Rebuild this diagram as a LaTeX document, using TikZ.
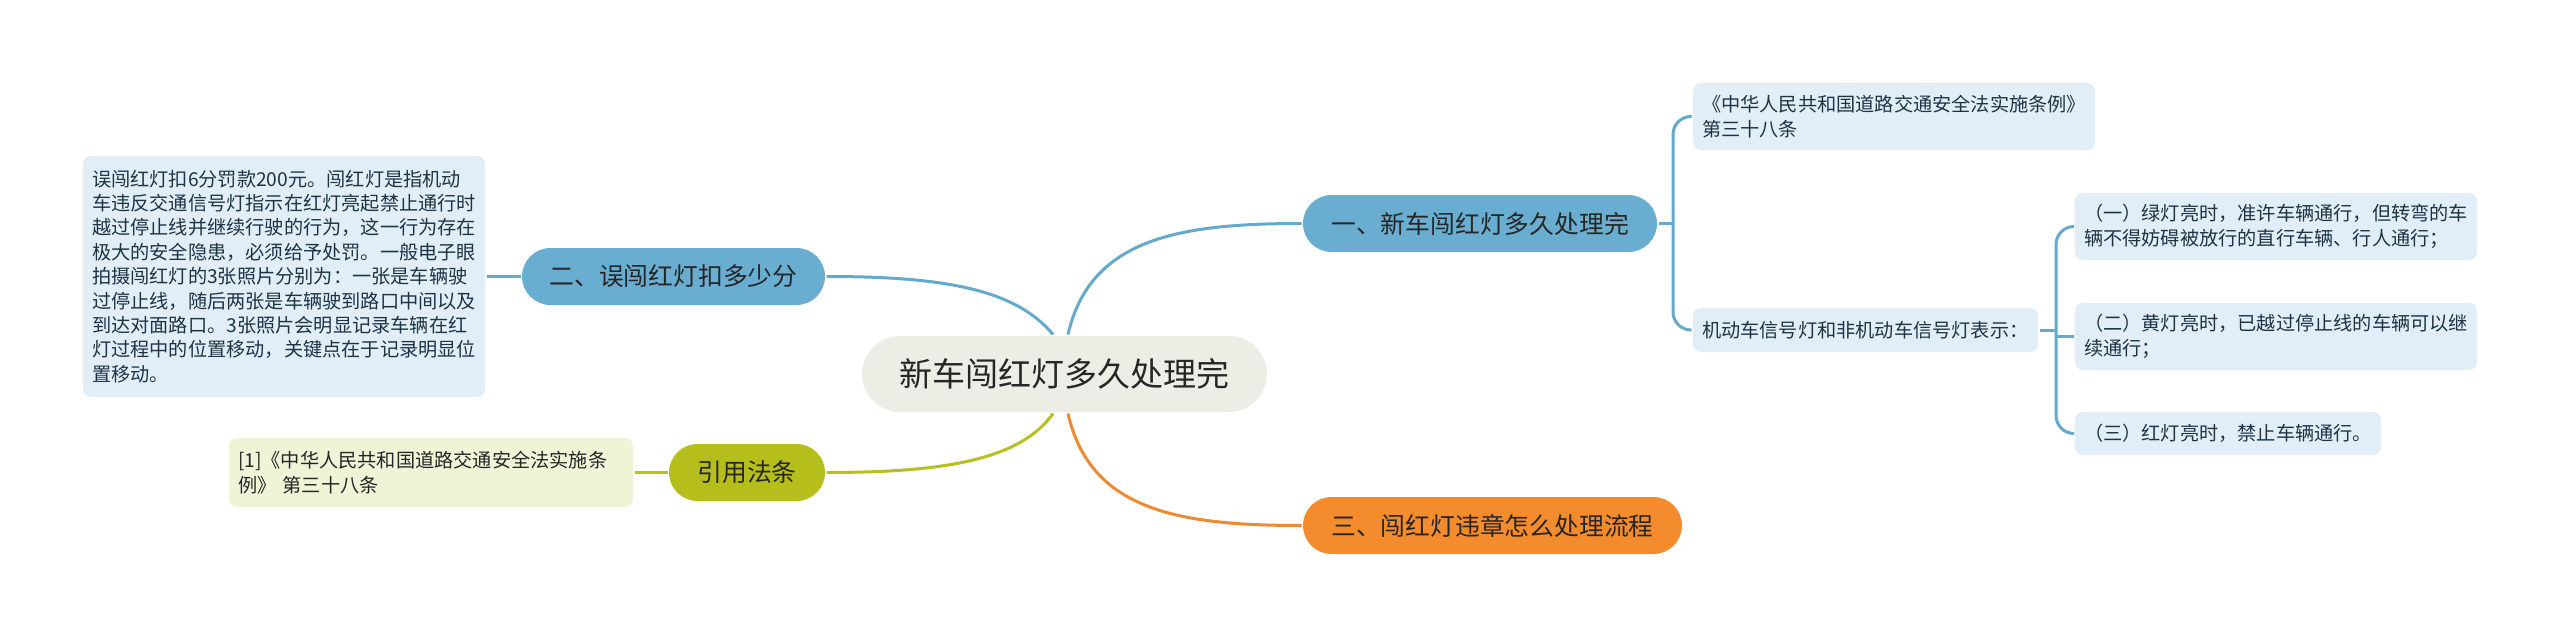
\documentclass[tikz,border=0pt]{standalone}
\usepackage{fontspec}
\setmainfont{Noto Sans CJK SC}
\usetikzlibrary{calc}

\definecolor{rootfill}{HTML}{EDEDE5}
\definecolor{bluefill}{HTML}{69ADD1}
\definecolor{blueline}{HTML}{66A9CD}
\definecolor{orangefill}{HTML}{F48B2C}
\definecolor{orangeline}{HTML}{EE8A30}
\definecolor{olivefill}{HTML}{B6BE1C}
\definecolor{oliveline}{HTML}{B8C021}
\definecolor{leafblue}{HTML}{E1EEF7}
\definecolor{leafolive}{HTML}{F1F3D6}
\definecolor{textdark}{HTML}{262626}
\definecolor{leaftext}{HTML}{1E3443}

\tikzset{every picture/.style={line width=1.5pt}}
\tikzset{
  rootbox/.style={fill=rootfill, rounded corners=19pt, minimum width=202.5pt, minimum height=38pt,
    inner sep=0pt, text=textdark, font=\fontsize{16.5}{20}\selectfont},
  branchbox/.style={rounded corners=14.25pt, minimum height=28.5pt, inner sep=0pt,
    text=textdark, font=\fontsize{12.4}{15}\selectfont},
  leafbox/.style={fill=leafblue, rounded corners=4pt, inner xsep=4.5pt, inner ysep=0pt,
    align=left, text=leaftext, font=\fontsize{9.6}{12.2}\selectfont},
  refbox/.style={fill=leafolive, rounded corners=4pt, inner xsep=4.5pt, inner ysep=0pt,
    align=left, text=textdark, font=\fontsize{9.6}{12.4}\selectfont},
}

\begin{document}
\begin{tikzpicture}[x=0.5pt,y=0.5pt,yscale=-1,xscale=1]
				\fill[white] (0,0) rectangle (2560,637);
				\useasboundingbox (0,0) rectangle (2560,637);
				
				% Central Topic
				\node[rootbox] (root) at (1064.5,374) {新车闯红灯多久处理完};
				
				% Main Topics
				\node[branchbox, fill=bluefill, minimum width=177pt] (br1) at (1480,223.5) {一、新车闯红灯多久处理完};
				\node[branchbox, fill=bluefill, minimum width=151.5pt] (br2) at (673.5,276.5) {二、误闯红灯扣多少分};
				\node[branchbox, fill=orangefill, minimum width=189.5pt] (br3) at (1492.5,525.5) {三、闯红灯违章怎么处理流程};
				\node[branchbox, fill=olivefill, minimum width=78pt] (br4) at (747,472.5) {引用法条};
				
				% Subtopics of br1
				\node[leafbox, text width=192pt, minimum height=33.5pt] (law1) at (1894,116.5)
				  {《中华人民共和国道路交通安全法实施条例》\\第三十八条};
				\node[leafbox, text width=163.5pt, minimum height=22pt] (sig1) at (1865.5,330)
				  {机动车信号灯和非机动车信号灯表示：};
				\node[leafbox, text width=192pt, minimum height=33.5pt] (sig1a) at (2276,226.5)
				  {（一）绿灯亮时，准许车辆通行，但转弯的车\\辆不得妨碍被放行的直行车辆、行人通行；};
				\node[leafbox, text width=192pt, minimum height=33.5pt] (sig1b) at (2276,336.5)
				  {（二）黄灯亮时，已越过停止线的车辆可以继\\续通行；};
				\node[leafbox, text width=144pt, minimum height=21.5pt] (sig1c) at (2228,433.5)
				  {（三）红灯亮时，禁止车辆通行。};
				
				% Subtopic of br2
				\node[leafbox, text width=192pt, minimum height=120.5pt] (mis2) at (284,276.5)
				  {误闯红灯扣6分罚款200元。闯红灯是指机动\\车违反交通信号灯指示在红灯亮起禁止通行时\\越过停止线并继续行驶的行为，这一行为存在\\极大的安全隐患，必须给予处罚。一般电子眼\\拍摄闯红灯的3张照片分别为：一张是车辆驶\\过停止线，随后两张是车辆驶到路口中间以及\\到达对面路口。3张照片会明显记录车辆在红\\灯过程中的位置移动，关键点在于记录明显位\\置移动。};
				
				% Subtopic of br4
				\node[refbox, text width=193pt, minimum height=34.5pt] (ref4) at (431,472.5)
				  {[1]《中华人民共和国道路交通安全法实施条\\例》 第三十八条};
				
				% Curve Lines from central topic
				\draw[blueline] ([xshift=-5.75pt]root.north) .. controls +(-38,-46) and +(115,0) .. (br2.east);
				\draw[blueline] ([xshift=1.75pt]root.north) .. controls +(22,-96) and +(-123,0) .. (br1.west);
				\draw[oliveline] ([xshift=-5.75pt]root.south) .. controls +(-33,47) and +(115,0) .. (br4.east);
				\draw[orangeline] ([xshift=1.75pt]root.south) .. controls +(22,97) and +(-123,0) .. (br3.west);
				
				% Straight Lines
				\draw[blueline] (br2.west) -- (mis2.east);
				\draw[oliveline] (br4.west) -- (ref4.east);
				
				% Brackets
				\coordinate (j1) at (1673,223.5);
				\draw[blueline] (br1.east) -- (j1);
				\draw[blueline, rounded corners=9pt] (law1.west) -| (j1) |- (sig1.west);
				\coordinate (j2) at (2056,330);
				\draw[blueline] (sig1.east) -- (j2);
				\draw[blueline, rounded corners=9pt] (sig1a.west) -| (j2) |- (sig1c.west);
				\draw[blueline] (sig1b.west) -- (sig1b.west -| j2);
				
\end{tikzpicture}
\end{document}
